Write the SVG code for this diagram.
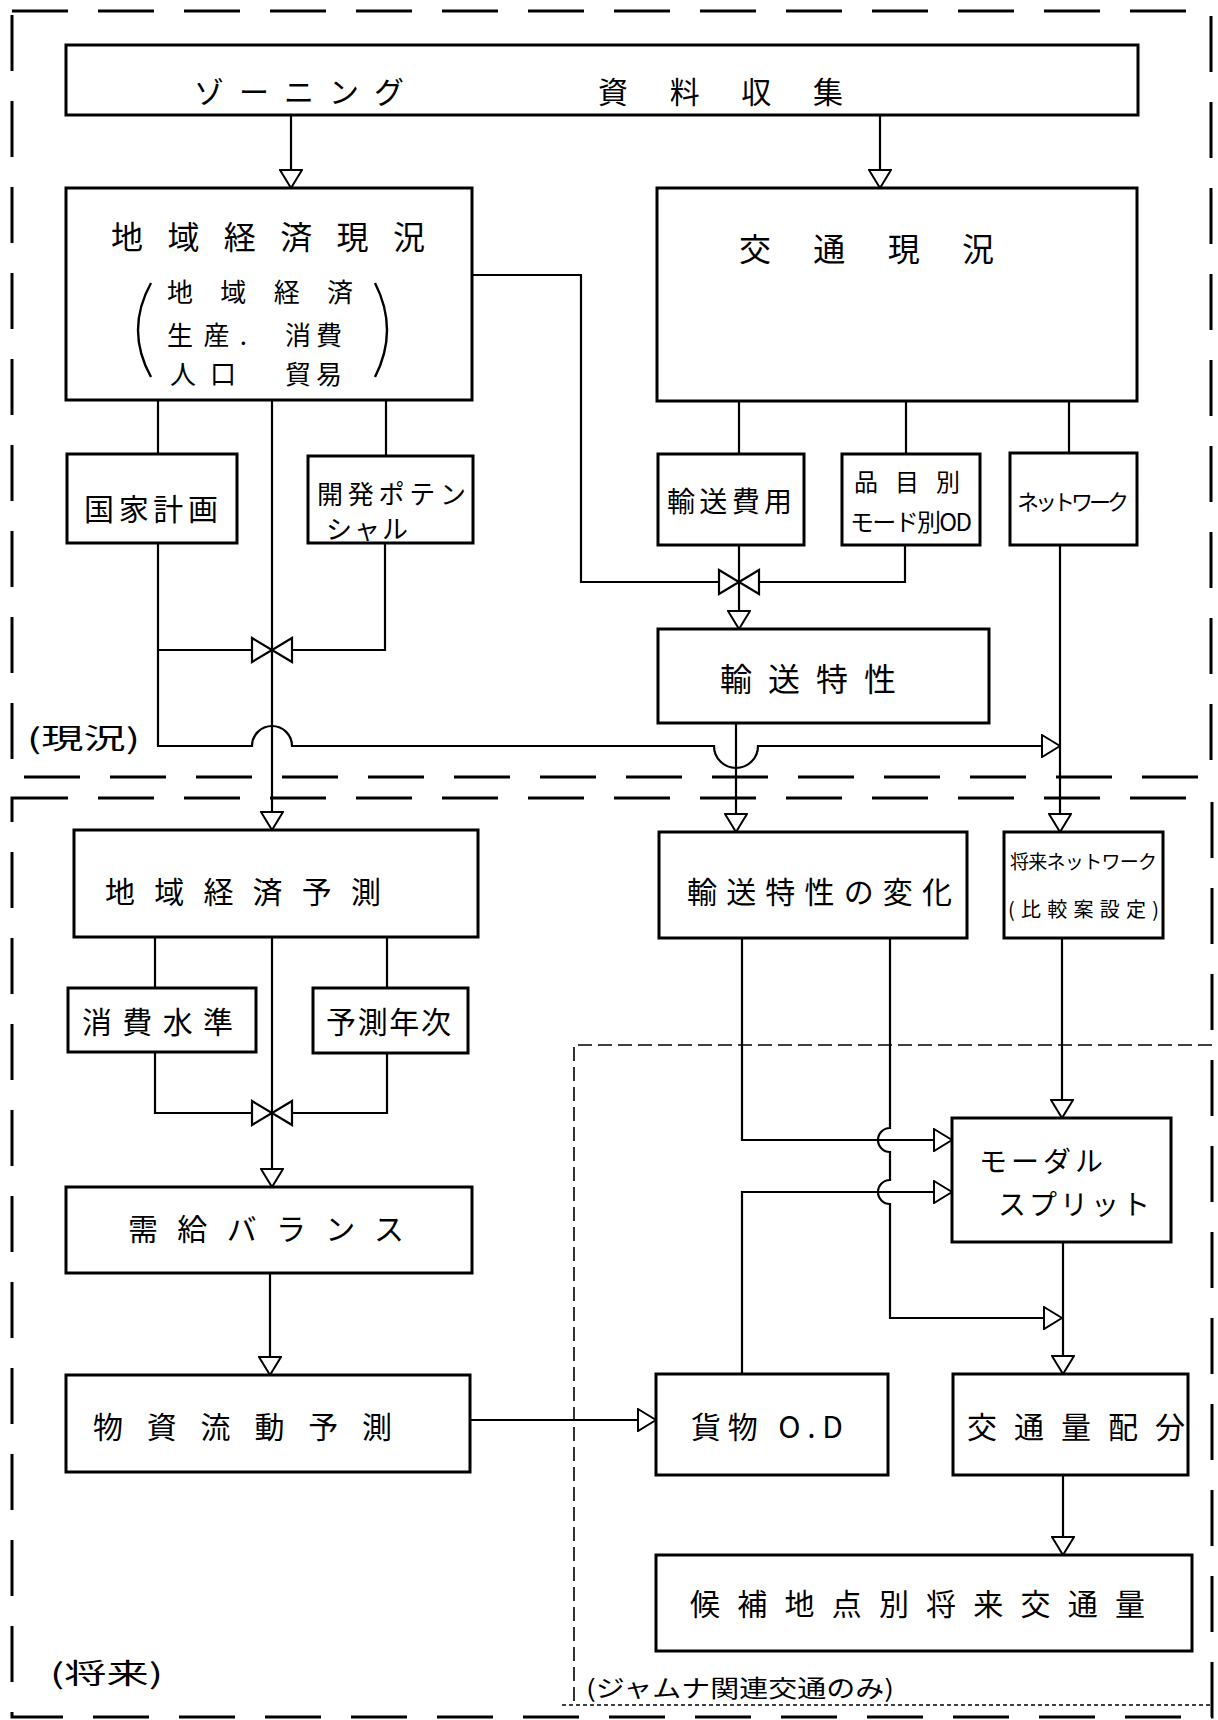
<svg xmlns="http://www.w3.org/2000/svg" width="1218" height="1720" viewBox="0 0 1218 1720">
<defs>
<style>
.box{fill:#fff;stroke:#000;stroke-width:3}
.ln{fill:none;stroke:#000;stroke-width:2.2}
.frame{fill:none;stroke:#000;stroke-width:3;stroke-dasharray:56 30}
.inner{fill:none;stroke:#000;stroke-width:1.6;stroke-dasharray:14 6}
.dot{fill:none;stroke:#000;stroke-width:1.6;stroke-dasharray:4 3}
.t{font-family:"Noto Sans CJK JP","Noto Sans",sans-serif;fill:#000;dominant-baseline:central}
.paren{fill:none;stroke:#000;stroke-width:2.4}
</style>
<marker id="arr" markerUnits="userSpaceOnUse" viewBox="0 0 20 24" refX="19" refY="12" markerWidth="20" markerHeight="24" orient="auto">
<path d="M1,1 L19,12 L1,23 Z" fill="#fff" stroke="#000" stroke-width="2"/>
</marker>
<path id="valve" d="M-20,-12 L-20,12 L0,0 Z M20,-12 L20,12 L0,0 Z" fill="#fff" stroke="#000" stroke-width="2.2"/>
</defs>
<rect x="0" y="0" width="1218" height="1720" fill="#fff"/>

<g id="frames">
<rect class="frame" x="12" y="11" width="1199" height="766"/>
<rect class="frame" x="12" y="798" width="1200" height="919"/>
<path class="inner" d="M1212,1045 L574,1045 L574,1705"/>
<path class="dot" d="M562,1705 L1212,1705"/>
<text class="t" x="27" y="737" font-size="28" textLength="113" lengthAdjust="spacingAndGlyphs">(現況)</text>
<text class="t" x="50" y="1672" font-size="28" textLength="113" lengthAdjust="spacingAndGlyphs">(将来)</text>
<text class="t" x="586" y="1686" font-size="24" textLength="308" lengthAdjust="spacingAndGlyphs">(ジャムナ関連交通のみ)</text>
</g>

<g id="n-top"><rect class="box" x="66" y="45" width="1072" height="70"/>
<text class="t" x="194" y="90" font-size="30" textLength="210" lengthAdjust="spacing">ゾーニング</text>
<text class="t" x="598" y="90" font-size="30" textLength="245" lengthAdjust="spacing">資料収集</text></g>

<g id="n-chiiki"><rect class="box" x="66" y="188" width="406" height="212"/>
<text class="t" x="111" y="235" font-size="32" textLength="314" lengthAdjust="spacing">地域経済現況</text>
<text class="t" x="167" y="290" font-size="26" textLength="186" lengthAdjust="spacing">地域経済</text>
<text class="t" x="167" y="333" font-size="26" textLength="80" lengthAdjust="spacing">生産.</text>
<text class="t" x="285" y="333" font-size="26" textLength="57" lengthAdjust="spacing">消費</text>
<text class="t" x="170" y="372" font-size="26" textLength="66" lengthAdjust="spacing">人口</text>
<text class="t" x="285" y="372" font-size="26" textLength="57" lengthAdjust="spacing">貿易</text>
<path class="paren" d="M151,283 Q125,330 151,377"/>
<path class="paren" d="M375,283 Q399,330 375,377"/></g>

<g id="n-kotsu"><rect class="box" x="657" y="188" width="480" height="213"/>
<text class="t" x="739" y="247" font-size="32" textLength="255" lengthAdjust="spacing">交通現況</text></g>

<g id="n-kokka"><rect class="box" x="67" y="454" width="170" height="89"/>
<text class="t" x="84" y="507" font-size="30" textLength="134" lengthAdjust="spacing">国家計画</text></g>

<g id="n-kaihatsu"><rect class="box" x="308" y="456" width="165" height="87"/>
<text class="t" x="317" y="492" font-size="26" textLength="149" lengthAdjust="spacing">開発ポテン</text>
<text class="t" x="326" y="527" font-size="26" textLength="82" lengthAdjust="spacing">シャル</text></g>

<g id="n-hiyo"><rect class="box" x="658" y="454" width="146" height="91"/>
<text class="t" x="667" y="500" font-size="28" textLength="125" lengthAdjust="spacing">輸送費用</text></g>

<g id="n-hinmoku"><rect class="box" x="842" y="454" width="138" height="91"/>
<text class="t" x="854" y="480" font-size="24" textLength="106" lengthAdjust="spacing">品目別</text>
<text class="t" x="850" y="520" font-size="24" textLength="122" lengthAdjust="spacing">モード別OD</text></g>

<g id="n-network"><rect class="box" x="1010" y="453" width="127" height="92"/>
<text class="t" x="1017" y="500" font-size="22" textLength="112" lengthAdjust="spacing">ネットワーク</text></g>

<g id="n-tokusei"><rect class="box" x="658" y="629" width="331" height="94"/>
<text class="t" x="720" y="677" font-size="32" textLength="176" lengthAdjust="spacing">輸送特性</text></g>

<g id="n-yosoku"><rect class="box" x="74" y="830" width="404" height="107"/>
<text class="t" x="105" y="890" font-size="30" textLength="276" lengthAdjust="spacing">地域経済予測</text></g>

<g id="n-henka"><rect class="box" x="659" y="832" width="308" height="106"/>
<text class="t" x="687" y="890" font-size="30" textLength="265" lengthAdjust="spacing">輸送特性の変化</text></g>

<g id="n-future-nw"><rect class="box" x="1004" y="832" width="159" height="106"/>
<text class="t" x="1010" y="860" font-size="19" textLength="147" lengthAdjust="spacing">将来ネットワーク</text>
<text class="t" x="1008" y="908" font-size="20" textLength="151" lengthAdjust="spacing">(比較案設定)</text></g>

<g id="n-shohi"><rect class="box" x="68" y="988" width="188" height="64"/>
<text class="t" x="82" y="1020" font-size="30" textLength="151" lengthAdjust="spacing">消費水準</text></g>

<g id="n-nenji"><rect class="box" x="313" y="988" width="155" height="65"/>
<text class="t" x="326" y="1020" font-size="30" textLength="125" lengthAdjust="spacing">予測年次</text></g>

<g id="n-jukyu"><rect class="box" x="66" y="1187" width="406" height="86"/>
<text class="t" x="128" y="1227" font-size="30" textLength="276" lengthAdjust="spacing">需給バランス</text></g>

<g id="n-butsuryu"><rect class="box" x="66" y="1375" width="404" height="97"/>
<text class="t" x="93" y="1425" font-size="30" textLength="299" lengthAdjust="spacing">物資流動予測</text></g>

<g id="n-kamotsu"><rect class="box" x="656" y="1374" width="232" height="101"/>
<text class="t" x="691" y="1425" font-size="30" textLength="152" lengthAdjust="spacing">貨物 O.D</text></g>

<g id="n-modal"><rect class="box" x="952" y="1118" width="219" height="124"/>
<text class="t" x="979" y="1160" font-size="28" textLength="124" lengthAdjust="spacing">モーダル</text>
<text class="t" x="998" y="1203" font-size="28" textLength="152" lengthAdjust="spacing">スプリット</text></g>

<g id="n-haibun"><rect class="box" x="953" y="1374" width="235" height="101"/>
<text class="t" x="967" y="1425" font-size="30" textLength="218" lengthAdjust="spacing">交通量配分</text></g>

<g id="n-kouho"><rect class="box" x="656" y="1555" width="536" height="96"/>
<text class="t" x="690" y="1602" font-size="30" textLength="455" lengthAdjust="spacing">候補地点別将来交通量</text></g>

<g id="connectors">
<path class="ln" d="M291,115 L291,188" marker-end="url(#arr)"/>
<path class="ln" d="M880,115 L880,188" marker-end="url(#arr)"/>
<path class="ln" d="M472,275 L581,275 L581,582 L719,582"/>
<path class="ln" d="M739,401 L739,454"/>
<path class="ln" d="M906,401 L906,454"/>
<path class="ln" d="M1069,401 L1069,453"/>
<path class="ln" d="M739,545 L739,629" marker-end="url(#arr)"/>
<path class="ln" d="M905,545 L905,582 L759,582"/>
<use href="#valve" x="739" y="582"/>
<path class="ln" d="M736,723 L736,832" marker-end="url(#arr)"/>
<path class="ln" d="M1060,545 L1060,832" marker-end="url(#arr)"/>
<path class="ln" d="M158,400 L158,454"/>
<path class="ln" d="M386,400 L386,456"/>
<path class="ln" d="M272,400 L272,830" marker-end="url(#arr)"/>
<path class="ln" d="M158,543 L158,746 L252,746 A20,20 0 0,1 292,746 L714,746 A22,22 0 0,0 758,746 L1060,746" marker-end="url(#arr)"/>
<path class="ln" d="M158,650 L252,650"/>
<path class="ln" d="M385,543 L385,650 L292,650"/>
<use href="#valve" x="272" y="650"/>
<path class="ln" d="M155,937 L155,988"/>
<path class="ln" d="M387,937 L387,988"/>
<path class="ln" d="M272,937 L272,1187" marker-end="url(#arr)"/>
<path class="ln" d="M155,1052 L155,1113 L252,1113"/>
<path class="ln" d="M387,1053 L387,1113 L292,1113"/>
<use href="#valve" x="272" y="1113"/>
<path class="ln" d="M270,1273 L270,1375" marker-end="url(#arr)"/>
<path class="ln" d="M470,1420 L656,1420" marker-end="url(#arr)"/>
<path class="ln" d="M742,938 L742,1140 L952,1140" marker-end="url(#arr)"/>
<path class="ln" d="M890,938 L890,1128 A12,12 0 0,0 890,1152 L890,1180 A12,12 0 0,0 890,1204 L890,1318 L1062,1318" marker-end="url(#arr)"/>
<path class="ln" d="M742,1374 L742,1192 L952,1192" marker-end="url(#arr)"/>
<path class="ln" d="M1062,938 L1062,1118" marker-end="url(#arr)"/>
<path class="ln" d="M1063,1242 L1063,1374" marker-end="url(#arr)"/>
<path class="ln" d="M1063,1475 L1063,1555" marker-end="url(#arr)"/>
</g>
</svg>
